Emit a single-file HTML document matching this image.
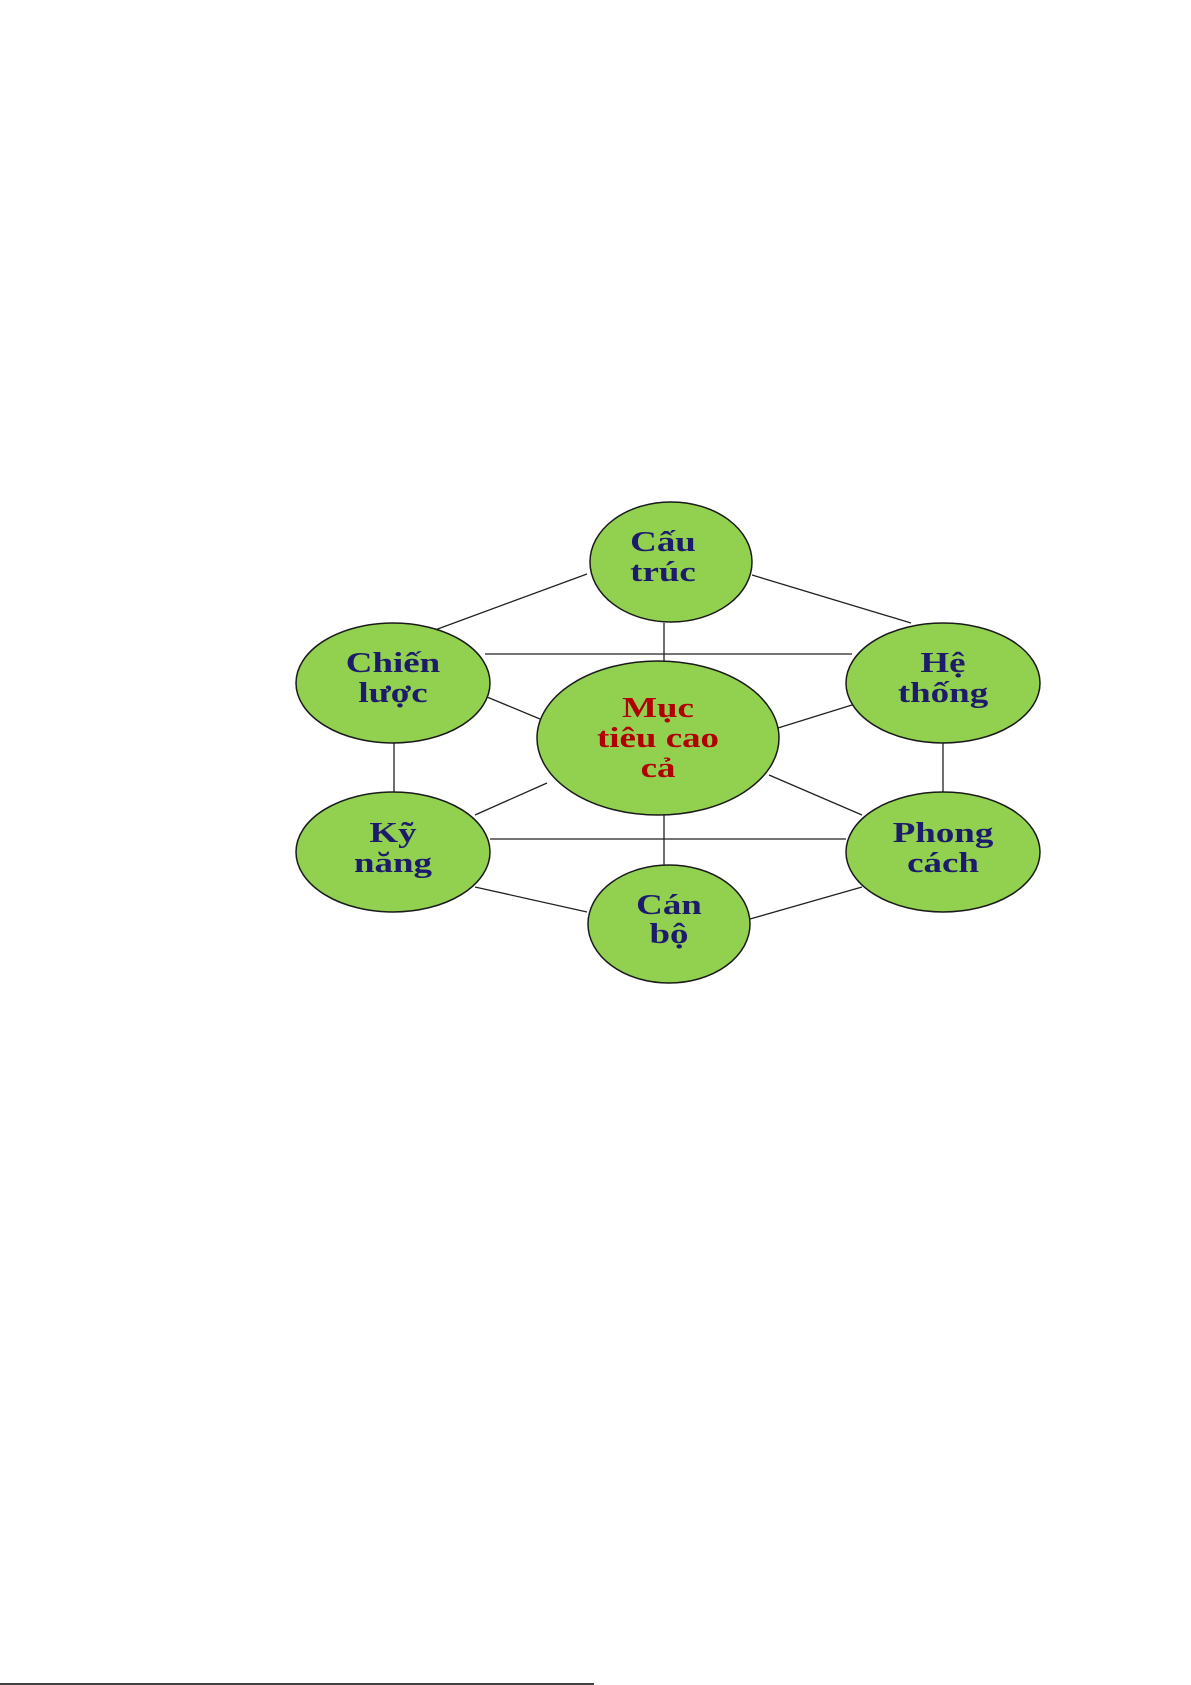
<!DOCTYPE html>
<html><head><meta charset="utf-8"><style>
html,body{margin:0;padding:0;background:#fff;width:1191px;height:1685px;overflow:hidden}
svg{display:block}
text{font-family:"Liberation Serif",serif;font-weight:bold;font-size:28px;text-anchor:middle}
.n{fill:#1c1c6b}.r{fill:#b00000}
</style></head><body>
<svg width="1191" height="1685" viewBox="0 0 1191 1685">
<g stroke="#222" stroke-width="1.3" fill="none">
<line x1="587" y1="574" x2="435" y2="630"/>
<line x1="752" y1="575" x2="911" y2="623"/>
<line x1="485" y1="654" x2="852" y2="654"/>
<line x1="664" y1="623" x2="664" y2="662"/>
<line x1="487" y1="697" x2="540" y2="719"/>
<line x1="852" y1="705" x2="778" y2="728"/>
<line x1="394" y1="743" x2="394" y2="792"/>
<line x1="943" y1="743" x2="943" y2="792"/>
<line x1="547" y1="783" x2="475" y2="815"/>
<line x1="769" y1="775" x2="862" y2="815"/>
<line x1="490" y1="839" x2="846" y2="839"/>
<line x1="664" y1="815" x2="664" y2="865"/>
<line x1="475" y1="887" x2="587" y2="912"/>
<line x1="862" y1="887" x2="750" y2="919"/>
</g>
<g fill="#92d050" stroke="#1a1a1a" stroke-width="1.5">
<ellipse cx="671" cy="562" rx="81" ry="60"/>
<ellipse cx="393" cy="683" rx="97" ry="60"/>
<ellipse cx="943" cy="683" rx="97" ry="60"/>
<ellipse cx="658" cy="738" rx="121" ry="77"/>
<ellipse cx="393" cy="852" rx="97" ry="60"/>
<ellipse cx="943" cy="852" rx="97" ry="60"/>
<ellipse cx="669" cy="924" rx="81" ry="59"/>
</g>
<g class="n">
<g transform="translate(663,0) scale(1.32,1)"><text x="0" y="551">Cấu</text><text x="0" y="581">trúc</text></g>
<g transform="translate(393,0) scale(1.32,1)"><text x="0" y="672">Chiến</text><text x="0" y="702">lược</text></g>
<g transform="translate(943,0) scale(1.32,1)"><text x="0" y="672">Hệ</text><text x="0" y="702">thống</text></g>
<g transform="translate(393,0) scale(1.32,1)"><text x="0" y="842">Kỹ</text><text x="0" y="872">năng</text></g>
<g transform="translate(943,0) scale(1.32,1)"><text x="0" y="842">Phong</text><text x="0" y="872">cách</text></g>
<g transform="translate(669,0) scale(1.32,1)"><text x="0" y="914">Cán</text><text x="0" y="943">bộ</text></g>
</g>
<g class="r" transform="translate(658,0) scale(1.32,1)">
<text x="0" y="717">Mục</text><text x="0" y="747">tiêu cao</text><text x="0" y="777">cả</text>
</g>
<line x1="0" y1="1684" x2="594" y2="1684" stroke="#000" stroke-width="1.5"/>
</svg>
</body></html>
